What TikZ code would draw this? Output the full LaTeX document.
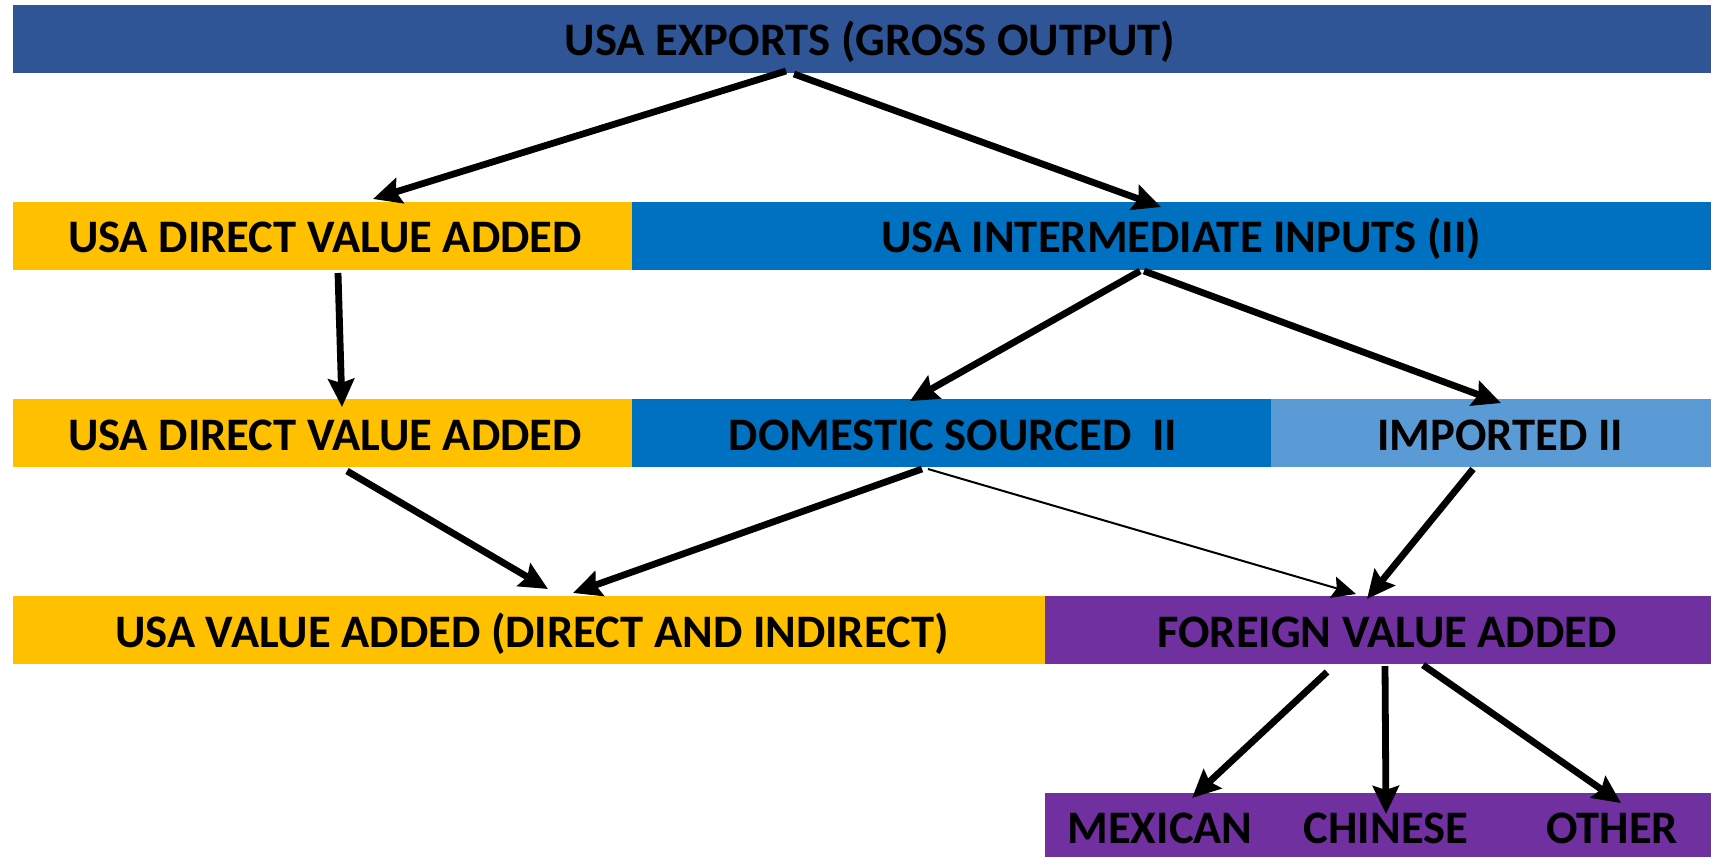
\documentclass[tikz,border=0pt]{standalone}
\usepackage{fontspec}
\setmainfont{Carlito}
\usetikzlibrary{arrows.meta,fit}
\definecolor{topblue}{HTML}{2F5597}
\definecolor{gold}{HTML}{FFC000}
\definecolor{midblue}{HTML}{0070C0}
\definecolor{lightblue}{HTML}{5B9BD5}
\definecolor{violet}{HTML}{7030A0}
\begin{document}
\begin{tikzpicture}[x=0.5pt,y=-0.5pt,
  band/.style={inner sep=0pt, outer sep=0pt, draw=none},
  lbl/.style={font=\fontsize{23.3}{28}\selectfont\bfseries, text=black, inner sep=0pt, anchor=base},
  flow/.style={line width=3.4pt, -{Stealth[length=14pt,width=13pt,inset=2pt]}},
  thinflow/.style={line width=1pt, -{Stealth[length=12pt,width=11pt,inset=2pt]}}]
\useasboundingbox (0,0) rectangle (1711,857);

% coloured bands
\node[band, fill=topblue,   fit={(13,5) (1711,73)}]    (exportsbox) {};
\node[band, fill=gold,      fit={(13,202) (632,270)}]  (dvaboxA) {};
\node[band, fill=midblue,   fit={(632,202) (1711,270)}] (iibox) {};
\node[band, fill=gold,      fit={(13,399) (632,467)}]  (dvaboxB) {};
\node[band, fill=midblue,   fit={(632,399) (1271,467)}] (dombox) {};
\node[band, fill=lightblue, fit={(1271,399) (1711,467)}] (impbox) {};
\node[band, fill=gold,      fit={(13,596) (1045,664)}] (usvabox) {};
\node[band, fill=violet,    fit={(1045,596) (1711,664)}] (fvabox) {};
\node[band, fill=violet,    fit={(1045,793) (1711,857)}] (srcbox) {};

% labels
\node[lbl] (exports) at (870,55)  {USA EXPORTS (GROSS OUTPUT)};
\node[lbl] (dvaA)    at (325,252) {USA DIRECT VALUE ADDED};
\node[lbl] (ii)      at (1181,252) {USA INTERMEDIATE INPUTS (II)};
\node[lbl] (dvaB)    at (325,450) {USA DIRECT VALUE ADDED};
\node[lbl] (dom)     at (953,450) {DOMESTIC SOURCED\ \ II};
\node[lbl] (imp)     at (1500,450) {IMPORTED II};
\node[lbl] (usva)    at (532,647) {USA VALUE ADDED (DIRECT AND INDIRECT)};
\node[lbl] (fva)     at (1387,647) {FOREIGN VALUE ADDED};
\node[lbl] (mex)     at (1160,843) {MEXICAN};
\node[lbl] (chn)     at (1386,843) {CHINESE};
\node[lbl] (oth)     at (1612,843) {OTHER};

% connector end points on the band edges
\coordinate (e1s) at (786,71);   \coordinate (e1t) at (373,199);
\coordinate (e2s) at (794,74);   \coordinate (e2t) at (1161,207);
\coordinate (e3s) at (338,273);  \coordinate (e3t) at (342,407);
\coordinate (e4s) at (1140,271); \coordinate (e4t) at (910,401);
\coordinate (e5s) at (1144,271); \coordinate (e5t) at (1501,403);
\coordinate (e6s) at (347,471);  \coordinate (e6t) at (548,589);
\coordinate (e7s) at (922,469);  \coordinate (e7t) at (573,593);
\coordinate (e8s) at (928,469);  \coordinate (e8t) at (1356,594);
\coordinate (e9s) at (1473,469); \coordinate (e9t) at (1367,599);
\coordinate (e10s) at (1327,672); \coordinate (e10t) at (1192,798);
\coordinate (e11s) at (1385,666); \coordinate (e11t) at (1386,814);
\coordinate (e12s) at (1423,665); \coordinate (e12t) at (1621,803);

% connectors
\draw[flow] (e1s) -- (e1t);
\draw[flow] (e2s) -- (e2t);
\draw[flow] (e3s) -- (e3t);
\draw[flow] (e4s) -- (e4t);
\draw[flow] (e5s) -- (e5t);
\draw[flow] (e6s) -- (e6t);
\draw[flow] (e7s) -- (e7t);
\draw[thinflow] (e8s) -- (e8t);
\draw[flow] (e9s) -- (e9t);
\draw[flow] (e10s) -- (e10t);
\draw[flow] (e11s) -- (e11t);
\draw[flow] (e12s) -- (e12t);
\end{tikzpicture}
\end{document}
